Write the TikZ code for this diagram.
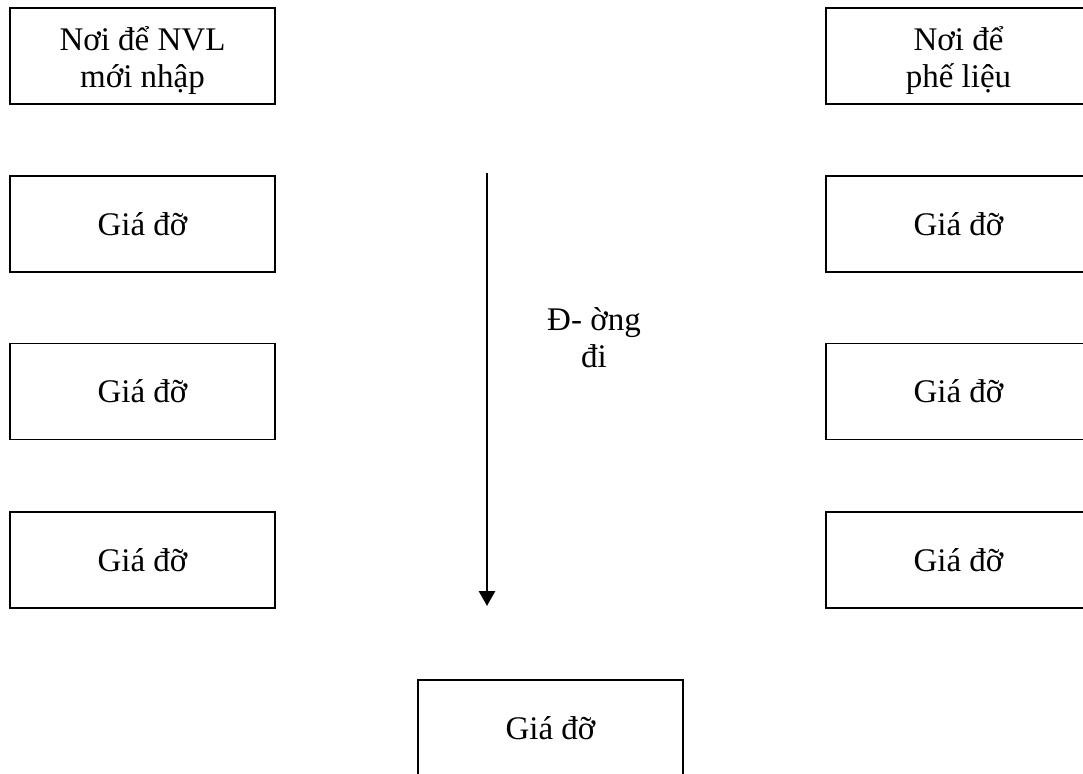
\documentclass[tikz,border=0pt]{standalone}
\usepackage{fontspec}
\setmainfont{Liberation Serif}
\usetikzlibrary{arrows.meta}
\begin{document}
\begin{tikzpicture}[x=1pt,y=-1pt,
  stockbox/.style={draw=black,line width=1.5pt,minimum width=265pt,minimum height=96pt,
    inner sep=0pt,align=center,font=\fontsize{33}{37}\selectfont},
  boxtext/.style={align=center,inner sep=0pt,font=\fontsize{33}{37}\selectfont},
  flowlabel/.style={align=center,font=\fontsize{33}{37}\selectfont,inner sep=0pt},
  flowarrow/.style={line width=2.7pt,-{Triangle[width=16pt,length=15pt]}}]
  \clip (0,0) rectangle (1083,773);
  \fill[white] (0,0) rectangle (1083,773);
  % left column
  \node[stockbox] (newmat) at (142.5,56) {};
  \node[boxtext] (newmattext) at ([yshift=-5pt]newmat.center) {Nơi để NVL\\mới nhập};
  \node[stockbox] (left1) at (142.5,224) {Giá đỡ};
  \node[stockbox] (left2) at (142.5,391.5) {Giá đỡ};
  \node[stockbox] (left3) at (142.5,560) {Giá đỡ};
  % right column
  \node[stockbox] (scrap) at (958.5,56) {};
  \node[boxtext] (scraptext) at ([yshift=-5pt]scrap.center) {Nơi để\\phế liệu};
  \node[stockbox] (right1) at (958.5,224) {Giá đỡ};
  \node[stockbox] (right2) at (958.5,391.5) {Giá đỡ};
  \node[stockbox] (right3) at (958.5,560) {Giá đỡ};
  % bottom rack
  \node[stockbox] (bottom) at (550.5,728) {Giá đỡ};
  % walkway
  \coordinate (walkstart) at (487,173);
  \coordinate (walkend) at (487,606);
  \draw[flowarrow] (walkstart) -- (walkend);
  \node[flowlabel] (walklabel) at (594,338) {Đ- ờng\\đi};
\end{tikzpicture}
\end{document}
